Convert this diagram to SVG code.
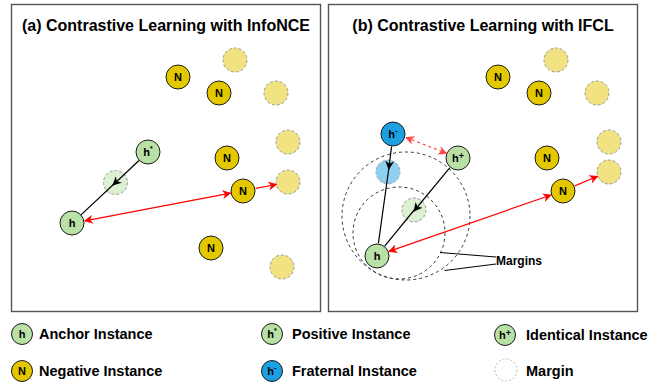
<svg xmlns="http://www.w3.org/2000/svg" width="662" height="383" viewBox="0 0 662 383">
<defs>
<style>
.panel{fill:#fff;stroke:#555;stroke-width:1.4}
.title{font-family:"Liberation Sans",Arial,sans-serif;font-weight:bold;font-size:16px;fill:#000;text-anchor:middle}
.lbl{font-family:"Liberation Sans",Arial,sans-serif;font-weight:bold;font-size:11px;fill:#000;text-anchor:middle}
.leg{font-family:"Liberation Sans",Arial,sans-serif;font-weight:bold;font-size:14.5px;fill:#000}
.green{fill:#b9e0a5;stroke:#1a1a1a;stroke-width:1}
.neg{fill:#e3c800;stroke:#1a1a1a;stroke-width:1}
.blue{fill:#1ba1e2;stroke:#1a1a1a;stroke-width:1}
.gy{fill:#f1e381;stroke:#999;stroke-width:1;stroke-dasharray:3 2}
.gg{fill:#dcf0d2;stroke:#999;stroke-width:1;stroke-dasharray:3 2}
.gb{fill:#8dd0f0;stroke:#aaa;stroke-width:1;stroke-dasharray:3 2}
.margin{fill:none;stroke:#333;stroke-width:1;stroke-dasharray:3 3}
.blk{fill:none;stroke:#000;stroke-width:1.2}
.red{fill:none;stroke:#ff0000;stroke-width:1.2}
.redd{fill:none;stroke:#ff4444;stroke-width:1.2;stroke-dasharray:3 3}
</style>
<marker id="ab" viewBox="0 0 10 10" refX="9" refY="5" markerWidth="9" markerHeight="9" markerUnits="userSpaceOnUse" orient="auto-start-reverse"><path d="M0,0 L10,5 L0,10 L3,5 z" fill="#000"/></marker>
<marker id="ar" viewBox="0 0 10 10" refX="9" refY="5" markerWidth="9" markerHeight="9" markerUnits="userSpaceOnUse" orient="auto-start-reverse"><path d="M0,0 L10,5 L0,10 L3,5 z" fill="#ff0000"/></marker>
<marker id="ard" viewBox="0 0 10 10" refX="9" refY="5" markerWidth="9" markerHeight="9" markerUnits="userSpaceOnUse" orient="auto-start-reverse"><path d="M0,0 L10,5 L0,10 L3,5 z" fill="#ff4444"/></marker>
</defs>

<g id="panel-a">
<rect class="panel" x="11.5" y="4.5" width="309" height="307"/>
<text class="title" x="166" y="31">(a) Contrastive Learning with InfoNCE</text>
</g>
<g id="panel-b">
<rect class="panel" x="328.5" y="4.5" width="309" height="307"/>
<text class="title" x="483" y="31">(b) Contrastive Learning with IFCL</text>
</g>

<g id="margins-b">
<circle class="margin" cx="406" cy="216" r="64"/>
<circle class="margin" cx="399" cy="233" r="46"/>
</g>

<!-- Panel a nodes -->
<g id="a-ghost-y1"><circle class="gy" cx="235" cy="60" r="12"/></g>
<g id="a-ghost-y2"><circle class="gy" cx="276" cy="93" r="12"/></g>
<g id="a-ghost-y3"><circle class="gy" cx="288" cy="142" r="12"/></g>
<g id="a-ghost-y4"><circle class="gy" cx="288" cy="182" r="12"/></g>
<g id="a-ghost-y5"><circle class="gy" cx="282" cy="267" r="12"/></g>
<g id="a-ghost-g"><circle class="gg" cx="115.5" cy="182.5" r="12"/></g>
<g id="a-n1"><circle class="neg" cx="178" cy="77" r="12"/><text class="lbl" x="178" y="81">N</text></g>
<g id="a-n2"><circle class="neg" cx="219" cy="93" r="12"/><text class="lbl" x="219" y="97">N</text></g>
<g id="a-n3"><circle class="neg" cx="227" cy="158" r="12"/><text class="lbl" x="227" y="162">N</text></g>
<g id="a-n4"><circle class="neg" cx="243" cy="191" r="12"/><text class="lbl" x="243" y="195">N</text></g>
<g id="a-n5"><circle class="neg" cx="211" cy="248" r="12"/><text class="lbl" x="211" y="252">N</text></g>
<g id="a-hpos"><circle class="green" cx="148" cy="152" r="12"/><text class="lbl" x="148" y="156">h<tspan font-size="7" dy="-5">*</tspan></text></g>
<g id="a-h"><circle class="green" cx="72" cy="223" r="12"/><text class="lbl" x="72" y="227">h</text></g>

<!-- Panel b nodes -->
<g id="b-ghost-y1"><circle class="gy" cx="556" cy="60" r="12"/></g>
<g id="b-ghost-y2"><circle class="gy" cx="597" cy="93" r="12"/></g>
<g id="b-ghost-y3"><circle class="gy" cx="609" cy="142" r="12"/></g>
<g id="b-ghost-y4"><circle class="gy" cx="609" cy="172" r="12"/></g>
<g id="b-ghost-b"><circle class="gb" cx="388" cy="172" r="12"/></g>
<g id="b-ghost-g"><circle class="gg" cx="414" cy="210" r="12"/></g>
<g id="b-n1"><circle class="neg" cx="498" cy="77" r="12"/><text class="lbl" x="498" y="81">N</text></g>
<g id="b-n2"><circle class="neg" cx="539" cy="93" r="12"/><text class="lbl" x="539" y="97">N</text></g>
<g id="b-n3"><circle class="neg" cx="547" cy="158" r="12"/><text class="lbl" x="547" y="162">N</text></g>
<g id="b-n4"><circle class="neg" cx="563" cy="191" r="12"/><text class="lbl" x="563" y="195">N</text></g>
<g id="b-hfrat"><circle class="blue" cx="393" cy="134" r="12"/><text class="lbl" x="393" y="138">h<tspan font-size="8" dy="-5">-</tspan></text></g>
<g id="b-hid"><circle class="green" cx="458" cy="158" r="12"/><text class="lbl" x="458" y="162">h<tspan font-size="9" dy="-3">+</tspan></text></g>
<g id="b-h"><circle class="green" cx="377" cy="256" r="12"/><text class="lbl" x="377" y="260">h</text></g>

<g id="connectors">
<path class="blk" d="M139,160.5 L113,185" marker-end="url(#ab)"/>
<path class="blk" d="M115,183 L80.7,215.1"/>
<path class="red" d="M84.8,220.9 L230.5,193.1" marker-start="url(#ar)" marker-end="url(#ar)"/>
<path class="red" d="M255.6,188.4 L276.5,184.5" marker-end="url(#ar)"/>

<path class="blk" d="M391.6,146.4 L388.7,169" marker-end="url(#ab)"/>
<path class="blk" d="M389,167 L378.4,243.3"/>
<path class="blk" d="M449.7,167.9 L414,211" marker-end="url(#ab)"/>
<path class="blk" d="M415,209 L384.7,246.1"/>
<path class="redd" d="M406,137.5 L446.5,153.3" marker-start="url(#ard)" marker-end="url(#ard)"/>
<path class="red" d="M389,251.4 L551,195" marker-start="url(#ar)" marker-end="url(#ar)"/>
<path class="red" d="M574.8,185.9 L597.6,176.3" marker-end="url(#ar)"/>
<path fill="none" stroke="#000" stroke-width="1" d="M496,257 L440,252.5 M496,264 L444.5,270.5"/>
</g>
<g id="margins-label"><text class="leg" x="496" y="265" font-size="12" style="font-size:12px">Margins</text></g>

<!-- Legend -->
<g id="legend-anchor"><circle class="green" cx="22" cy="334" r="10.5"/><text class="lbl" x="22" y="338">h</text><text class="leg" x="39" y="339">Anchor Instance</text></g>
<g id="legend-negative"><circle class="neg" cx="22" cy="371" r="10.5"/><text class="lbl" x="22" y="375">N</text><text class="leg" x="39" y="376">Negative Instance</text></g>
<g id="legend-positive"><circle class="green" cx="272" cy="334" r="10.5"/><text class="lbl" x="272" y="338">h<tspan font-size="7" dy="-5">*</tspan></text><text class="leg" x="292" y="339">Positive Instance</text></g>
<g id="legend-fraternal"><circle class="blue" cx="272" cy="371" r="10.5"/><text class="lbl" x="272" y="375">h<tspan font-size="8" dy="-5">-</tspan></text><text class="leg" x="292" y="376">Fraternal Instance</text></g>
<g id="legend-identical"><circle class="green" cx="505" cy="335" r="10.5"/><text class="lbl" x="505" y="339">h<tspan font-size="9" dy="-3">+</tspan></text><text class="leg" x="526" y="340">Identical Instance</text></g>
<g id="legend-margin"><circle fill="none" stroke="#bbb" stroke-width="1" stroke-dasharray="2 2" cx="506" cy="370" r="11"/><text class="leg" x="526" y="376">Margin</text></g>
</svg>
